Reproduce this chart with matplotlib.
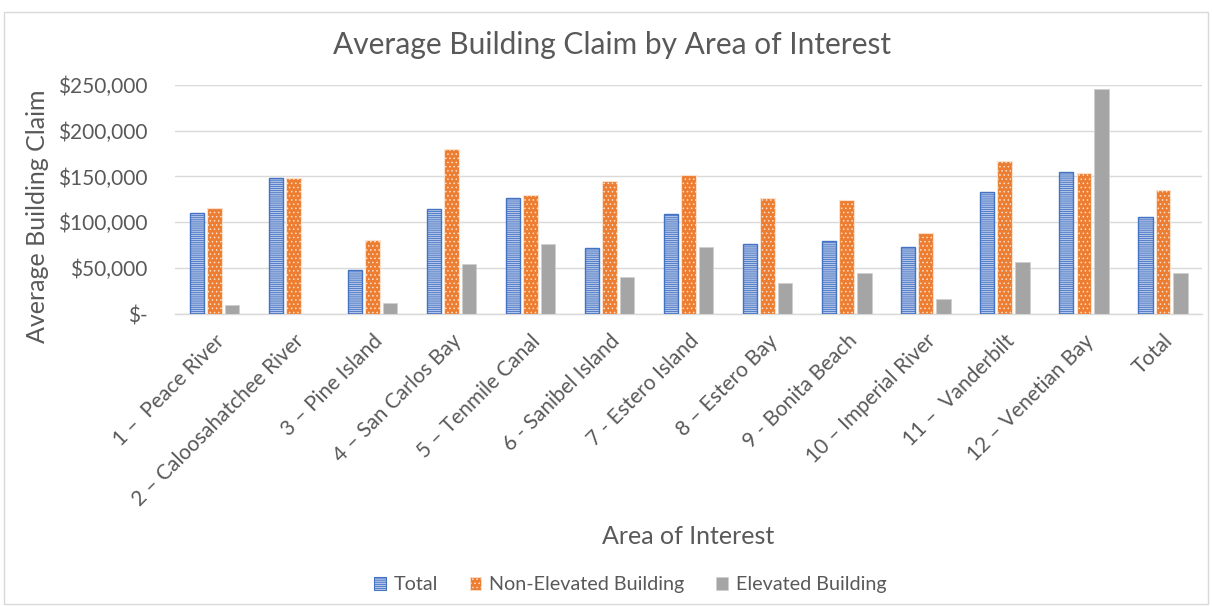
import matplotlib
matplotlib.use("Agg")
import matplotlib.pyplot as plt
import numpy as np
from matplotlib.patches import Patch, Rectangle
from matplotlib.ticker import FuncFormatter

plt.rcParams["font.family"] = ["Lato", "DejaVu Sans"]
plt.rcParams["hatch.linewidth"] = 0.6

# Datos
areas = ["1 \u2013  Peace River", "2 \u2013 Caloosahatchee River", "3 \u2013 Pine Island",
         "4 \u2013 San Carlos Bay", "5 \u2013 Tenmile Canal", "6 - Sanibel Island",
         "7 - Estero Island", "8 \u2013 Estero Bay", "9 - Bonita Beach",
         "10 \u2013 Imperial River", "11 \u2013  Vanderbilt", "12 \u2013 Venetian Bay", "Total"]
total = [109800, 148300, 48000, 114800, 126500, 72000, 108700, 76300, 79600, 73000, 132700, 154500, 105800]
non_elevated = [115900, 148300, 80700, 179500, 129400, 145000, 151200, 126500, 124300, 88600, 166800, 153400, 134900]
elevated = [9800, 0, 11600, 54500, 76300, 40000, 73000, 33400, 45000, 16000, 56300, 245000, 45000]
series_names = ["Total", "Non-Elevated Building", "Elevated Building"]

text_col = "#595959"
grid_col = "#d9d9d9"

fig = plt.figure(figsize=(12.12, 6.06), dpi=100)
ax = fig.add_axes([0.1444, 0.4818, 0.8476, 0.3784])

x = np.arange(len(areas))
w = 0.184
off = 0.222

ax.bar(x - off, total, w, facecolor="#b4c6e7", edgecolor="#4472c4", hatch="--------", linewidth=1.0, zorder=3)
ax.bar(x, non_elevated, w, facecolor="#ed7d31", edgecolor="#fbe0cc", hatch="....", linewidth=0.8, zorder=3)
ax.bar(x + off, elevated, w, facecolor="#a5a5a5", edgecolor="#cfcfcf", linewidth=0.6, zorder=3)

ax.set_xlim(-0.5, len(areas) - 0.5)
ax.set_ylim(0, 250000)
ax.set_yticks(np.arange(0, 250001, 50000))
ax.yaxis.set_major_formatter(FuncFormatter(lambda v, p: "$-" if v == 0 else "${:,.0f}".format(v)))
ax.grid(axis="y", color=grid_col, linewidth=1.0, zorder=0)
for s in ["top", "right", "left"]:
    ax.spines[s].set_visible(False)
ax.spines["bottom"].set_color(grid_col)
ax.spines["bottom"].set_linewidth(1.0)

ax.set_xticks(x)
ax.set_xticklabels(areas, rotation=45, ha="right", rotation_mode="anchor", fontsize=15, color=text_col)
ax.tick_params(axis="x", length=0, pad=12)
ax.tick_params(axis="y", length=0, pad=20, labelsize=15, labelcolor=text_col)

fig.text(0.505, 0.925, "Average Building Claim by Area of Interest", ha="center", va="center",
         fontsize=21.5, color=text_col)
fig.text(0.031, 0.643, "Average Building Claim", rotation=90, ha="center", va="center",
         fontsize=18, color=text_col)
fig.text(0.568, 0.114, "Area of Interest", ha="center", va="center", fontsize=18, color=text_col)

handles = [Patch(facecolor="#b4c6e7", edgecolor="#4472c4", hatch="--------", linewidth=0.8),
           Patch(facecolor="#ed7d31", edgecolor="#fbe0cc", hatch="....", linewidth=0.6),
           Patch(facecolor="#a5a5a5", edgecolor="#cfcfcf", linewidth=0.6)]
fig.legend(handles, series_names, loc="center", bbox_to_anchor=(0.52, 0.035), ncol=3, frameon=False,
           fontsize=14.2, labelcolor=text_col, handlelength=0.6, handleheight=0.6,
           handletextpad=0.4, columnspacing=1.6)

# borde del area del grafico
fig.patches.append(Rectangle((0.003, 0.004), 0.994, 0.976, transform=fig.transFigure,
                             fill=False, edgecolor="#d9d9d9", linewidth=1.0))

fig.savefig("out.png", dpi=100)
